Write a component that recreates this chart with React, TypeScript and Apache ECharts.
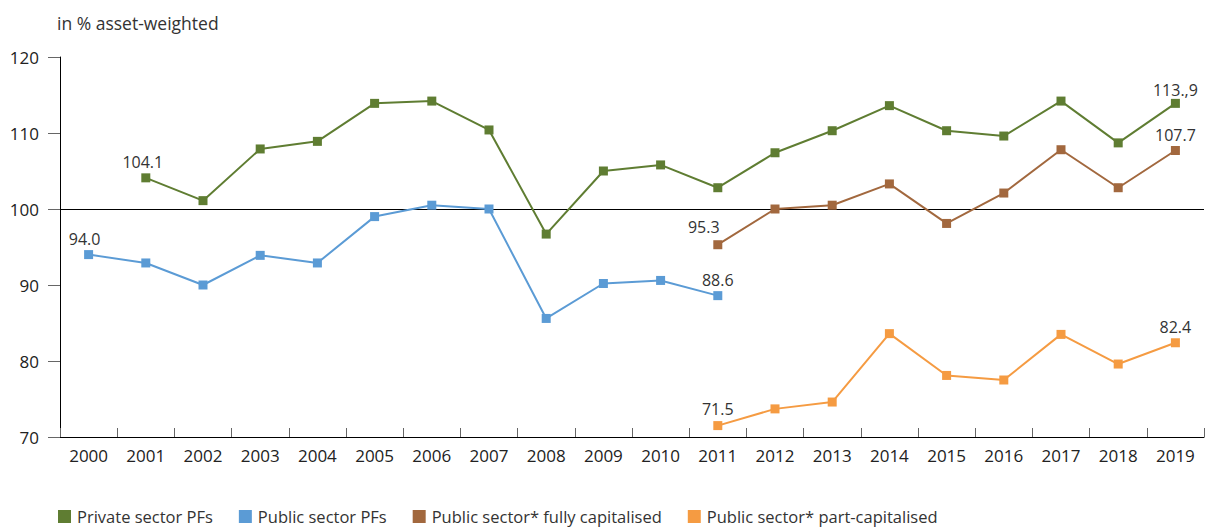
import React, { useEffect, useRef } from "react";
import * as echarts from "echarts";

const years = ["2000","2001","2002","2003","2004","2005","2006","2007","2008","2009","2010","2011","2012","2013","2014","2015","2016","2017","2018","2019"];
const privatePF: (number | null)[] = [null,104.1,101.1,107.9,108.9,113.9,114.2,110.4,96.7,105.0,105.8,102.8,107.4,110.3,113.6,110.3,109.6,114.2,108.7,113.9];
const publicPF: (number | null)[] = [94.0,92.9,90.0,93.9,92.9,99.0,100.5,100.0,85.6,90.2,90.6,88.6,null,null,null,null,null,null,null,null];
const fullyCap: (number | null)[] = [null,null,null,null,null,null,null,null,null,null,null,95.3,100.0,100.5,103.3,98.1,102.1,107.8,102.8,107.7];
const partCap: (number | null)[] = [null,null,null,null,null,null,null,null,null,null,null,71.5,73.7,74.6,83.6,78.1,77.5,83.5,79.6,82.4];

const seriesNames = ["Private sector PFs","Public sector PFs","Public sector* fully capitalised","Public sector* part-capitalised"];
const colors = ["#5f7d32","#5b9bd5","#a2683e","#f59b42"];

// labelled points: [seriesIndex, categoryIndex, text, offsetX, offsetY]
const labelPoints: [number, number, string, number, number][] = [
  [0, 1, "104.1", -3, 0],
  [0, 19, "113.,9", 0, 2],
  [1, 0, "94.0", -4, 0],
  [1, 11, "88.6", 0, 0],
  [2, 11, "95.3", -14, -2],
  [2, 19, "107.7", 0, 0],
  [3, 11, "71.5", 0, -1],
  [3, 19, "82.4", 0, 0],
];

const FONT = "'Open Sans', sans-serif";

export default function App() {
  const ref = useRef<HTMLDivElement>(null);
  useEffect(() => {
    if (!ref.current) return;
    const chart = echarts.init(ref.current, undefined, { renderer: "svg" });
    const all = [privatePF, publicPF, fullyCap, partCap];
    const series = all.map((arr, si) => ({
      name: seriesNames[si],
      type: "line",
      data: arr.map((v, ci) => {
        const lp = labelPoints.find((p) => p[0] === si && p[1] === ci);
        if (lp && v !== null) {
          return {
            value: v,
            label: {
              show: true,
              formatter: lp[2],
              position: "top",
              offset: [lp[3], lp[4]],
              color: "#333",
              fontSize: 16,
              fontFamily: FONT,
              distance: 3,
            },
          };
        }
        return v;
      }),
      symbol: "rect",
      symbolSize: 9,
      showAllSymbol: true,
      connectNulls: false,
      lineStyle: { color: colors[si], width: 2 },
      itemStyle: { color: colors[si] },
      z: 3,
      ...(si === 0
        ? {
            markLine: {
              silent: true,
              symbol: ["none", "none"],
              label: { show: false },
              lineStyle: { color: "#000", width: 1, type: "solid" },
              data: [{ yAxis: 100 }],
              z: 1,
            },
          }
        : {}),
    }));
    chart.setOption({
      animation: false,
      textStyle: { fontFamily: FONT },
      grid: { left: 60, right: 4, top: 57, bottom: 92, containLabel: false },
      title: {
        text: "in % asset-weighted",
        left: 52,
        top: 9,
        textStyle: { fontSize: 17.5, fontWeight: "normal", color: "#333", fontFamily: FONT },
      },
      legend: {
        bottom: -1,
        left: 53,
        icon: "rect",
        itemWidth: 13,
        itemHeight: 13,
        itemGap: 26,
        textStyle: { fontSize: 16.5, color: "#333", fontFamily: FONT, padding: [0, 0, 0, 1] },
        data: seriesNames,
      },
      xAxis: {
        type: "category",
        data: years,
        boundaryGap: true,
        axisLine: { lineStyle: { color: "#000", width: 1 } },
        axisTick: { show: true, inside: true, length: 9, lineStyle: { color: "#666" } },
        axisLabel: { color: "#222", fontSize: 17, margin: 10, fontFamily: FONT, interval: 0 },
      },
      yAxis: {
        type: "value",
        min: 70,
        max: 120,
        interval: 10,
        axisLine: { show: true, lineStyle: { color: "#000", width: 1 } },
        axisTick: { show: true, inside: false, length: 12, lineStyle: { color: "#666" } },
        axisLabel: { color: "#222", fontSize: 17, margin: 21, fontFamily: FONT },
        splitLine: { show: false },
      },
      series,
    });
    return () => chart.dispose();
  }, []);
  return <div ref={ref} style={{ width: 1208, height: 529, position: "absolute", left: 0, top: 0 }} />;
}
